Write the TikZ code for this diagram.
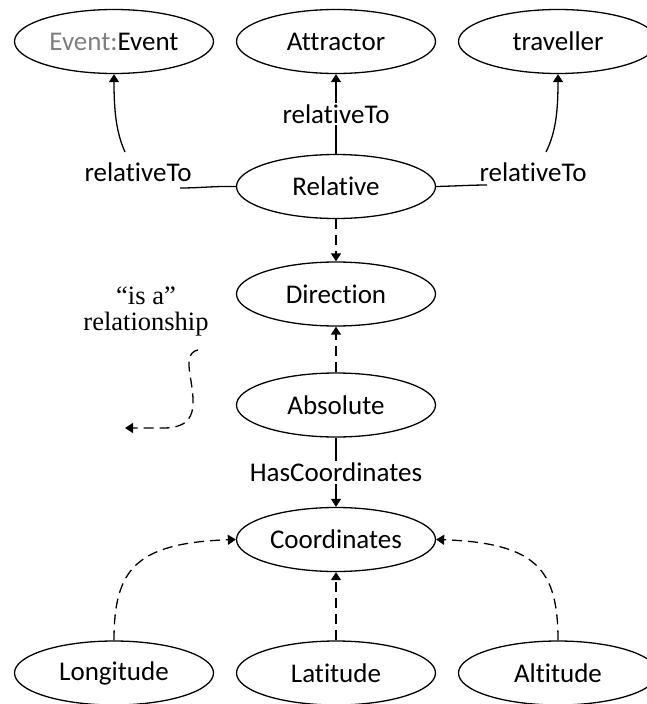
\documentclass[tikz,border=0pt]{standalone}
\usepackage{fontspec}
\setmainfont{Carlito}[Ligatures=NoCommon]
\newfontfamily\legendfont{Liberation Serif}
\usetikzlibrary{shapes.geometric,arrows.meta}
\definecolor{prefixgray}{HTML}{7F7F7F}
\begin{document}
\begin{tikzpicture}[x=1pt,y=-1pt,
  concept/.style={ellipse,draw,line width=1.3pt,minimum width=199pt,
    minimum height=64pt,inner sep=0pt,font=\fontsize{27}{30}\selectfont},
  edgelabel/.style={font=\fontsize{27}{30}\selectfont,inner sep=2pt},
  link/.style={line width=1.3pt},
  conn/.style={link,-{Triangle[length=8pt,width=10pt]}},
  isa/.style={conn,dash pattern=on 10pt off 6pt}]
\useasboundingbox (0,0) rectangle (647,704);

% concepts
\node[concept] (ev)   at (114,41.5) {{\color{prefixgray}Event:}Event};
\node[concept] (attr) at (336,41.5) {Attractor};
\node[concept] (trav) at (558,41.5) {traveller};
\node[concept] (rel)  at (336,186.5) {Relative};
\node[concept] (dir)  at (336,294) {Direction};
\node[concept] (abs)  at (336,405) {Absolute};
\node[concept] (coord) at (336,539.5) {Coordinates};
\node[concept] (lon)  at (114,673) {Longitude};
\node[concept] (lat)  at (336,673) {Latitude};
\node[concept] (alt)  at (558,673) {Altitude};

% relativeTo links
\node[edgelabel] (lblev) at (138,172) {relativeTo};
\node[edgelabel] (lbltr) at (533,172) {relativeTo};
\coordinate (evin)  at (180,188);
\coordinate (evout) at (125,152);
\coordinate (trin)  at (487,185);
\coordinate (trout) at (546,152);

\draw[link] (rel.west) .. controls (215,186) and (200,188) .. (evin);
\draw[conn] (evout) .. controls (116,132) and (114,110) .. (ev.south);
\draw[link] (rel.east) .. controls (457,186) and (472,185) .. (trin);
\draw[conn] (trout) .. controls (556,132) and (558,110) .. (trav.south);

\draw[conn] (rel.north) -- node[edgelabel,fill=white] (lblat) {relativeTo} (attr.south);

% "is a" links
\draw[isa] (rel.south) -- (dir.north);
\draw[isa] (abs.north) -- (dir.south);
\draw[isa] (lat.north) -- (coord.south);
\draw[isa] (lon.north) .. controls (114,570) and (135,543) .. (coord.west);
\draw[isa] (alt.north) .. controls (558,570) and (537,543) .. (coord.east);

% has-coordinates link
\draw[conn] (abs.south) -- node[edgelabel,fill=white] (lblhc) {HasCoordinates} (coord.north);

% legend
\node[font=\legendfont\fontsize{26.5}{26}\selectfont,align=center,inner sep=0pt] (legend) at (146,311)
  {“is a”\\relationship};
\coordinate (legstart) at (198,350);
\coordinate (legend-tip) at (125,428);
\draw[isa] (legstart) .. controls (188,352) and (188,362) .. (190,375)
  .. controls (195,405) and (198,427) .. (165,428) -- (legend-tip);
\end{tikzpicture}
\end{document}
